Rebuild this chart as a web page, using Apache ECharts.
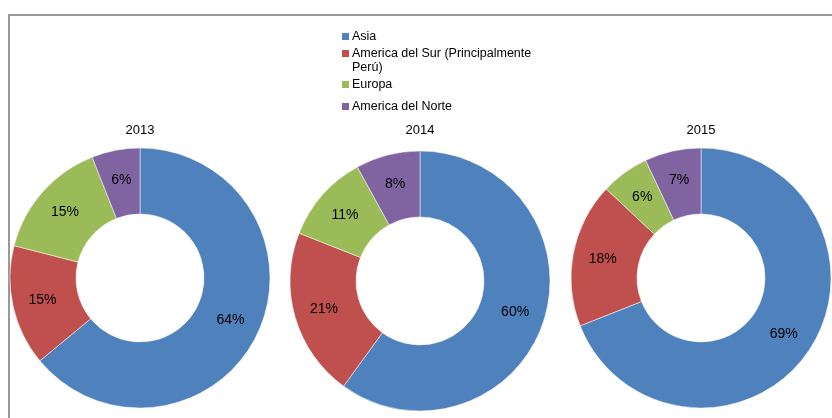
<!DOCTYPE html>
<html>
<head>
<meta charset="utf-8">
<script src="https://cdn.jsdelivr.net/npm/echarts@6/dist/echarts.min.js"></script>
<style>
  html, body { margin: 0; padding: 0; background: #fff; }
  #main { width: 832px; height: 418px; }
</style>
</head>
<body>
<div id="main"></div>
<script>
// datos
const regiones = ['Asia', 'America del Sur (Principalmente Perú)', 'Europa', 'America del Norte']
const colores = ['#4F81BD', '#C0504D', '#9BBB59', '#8064A2']
const anios = ['2013', '2014', '2015']
const valores2013 = [64, 15, 15, 6]
const valores2014 = [60, 21, 11, 8]
const valores2015 = [69, 18, 6, 7]

const valores = [valores2013, valores2014, valores2015]
const centros = [[140, 278], [420, 281], [701, 278]]
const font = 'Liberation Sans, Arial, sans-serif'

const chart = echarts.init(document.getElementById('main'))

// una leyenda por item para poder ubicarlas igual que el original
const legendTops = [30, 47, 78, 100]
const legends = regiones.map((r, i) => ({
  data: [r],
  orient: 'vertical',
  left: 342,
  top: legendTops[i],
  padding: 0,
  itemWidth: 7,
  itemHeight: 7,
  icon: 'rect',
  itemStyle: { borderWidth: 0 },
  selectedMode: false,
  formatter: n => n === regiones[1] ? 'America del Sur (Principalmente' : n,
  textStyle: { fontFamily: font, fontSize: 12.5, color: '#000', padding: [0, 0, 0, -2] }
}))

chart.setOption({
  animation: false,
  color: colores,
  title: anios.map((a, i) => ({
    text: a,
    left: centros[i][0],
    top: 124,
    textAlign: 'center',
    padding: 0,
    textStyle: { fontFamily: font, fontSize: 13, fontWeight: 'normal', color: '#000' }
  })),
  legend: legends,
  graphic: [
    {
      type: 'rect',
      shape: { x: 9, y: 15, width: 900, height: 500 },
      style: { fill: 'none', stroke: '#999', lineWidth: 2 },
      silent: true
    },
    {
      type: 'text',
      left: 352,
      top: 61,
      style: { text: 'Perú)', font: '12.5px ' + font, fill: '#000' }
    }
  ],
  series: valores.map((v, i) => ({
    type: 'pie',
    name: anios[i],
    center: centros[i],
    radius: [64, 130],
    startAngle: 90,
    clockwise: true,
    avoidLabelOverlap: false,
    itemStyle: { borderColor: '#fff', borderWidth: 0.5 },
    label: {
      show: true,
      position: 'inside',
      formatter: '{c}%',
      fontFamily: font,
      fontSize: 14,
      color: '#000'
    },
    labelLine: { show: false },
    emphasis: { disabled: true },
    data: regiones.map((r, j) => ({ name: r, value: v[j] }))
  }))
})
</script>
</body>
</html>
